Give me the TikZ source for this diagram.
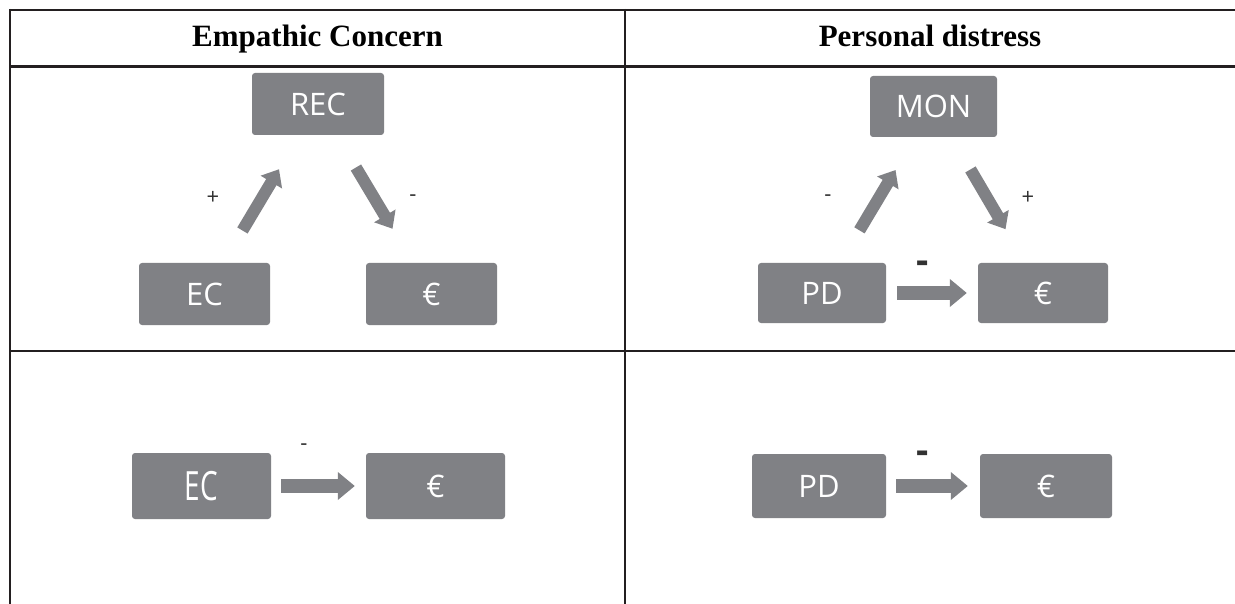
\documentclass[tikz,border=0pt]{standalone}
\usepackage{fontspec}
\setmainfont{Liberation Serif}
\newfontfamily\boxfont{Open Sans}
\usetikzlibrary{arrows.meta}
\definecolor{boxgray}{RGB}{128,129,133}
\definecolor{rulecol}{RGB}{35,31,32}
\definecolor{labcol}{RGB}{50,50,50}
\begin{document}
\begin{tikzpicture}[x=1pt,y=-1pt,
  box/.style={fill=boxgray, rounded corners=3pt, inner sep=0pt, text=white,
    font=\boxfont\fontsize{31}{31}\selectfont},
  tablerule/.style={draw=rulecol, line width=2.4pt},
  head/.style={anchor=base, font=\bfseries\fontsize{31}{31}\selectfont, text=black},
  blockarrow/.style={draw=boxgray, line width=12pt, -{Triangle[length=15pt,width=24pt]}},
  flatarrow/.style={draw=boxgray, line width=14pt, -{Triangle[length=17pt,width=27pt]}},
  lab/.style={font=\boxfont\fontsize{22}{22}\selectfont, text=labcol, inner sep=0pt},
  boldlab/.style={font=\boxfont\bfseries\fontsize{38}{38}\selectfont, text=labcol, inner sep=0pt}]
\useasboundingbox (0,0) rectangle (1235,604);
\fill[white] (0,0) rectangle (1235,604);
% table
\draw[tablerule] (10,10) -- (1235,10);
\draw[tablerule] (10,66.5) -- (1235,66.5);
\draw[tablerule] (10,351) -- (1235,351);
\draw[tablerule] (10,8.8) -- (10,604);
\draw[tablerule] (625,8.8) -- (625,604);
\node[head] (h1) at (317.5,47) {Empathic Concern};
\node[head] (h2) at (930,47) {Personal distress};
% top-left panel
\node[box, minimum width=132pt, minimum height=62pt] (rec) at (318,104) {REC};
\node[box, minimum width=131pt, minimum height=62pt] (ec1) at (204.5,294) {EC};
\node[box, minimum width=131pt, minimum height=62pt] (eu1) at (431.5,294) {€};
\draw[blockarrow, shorten <=74pt, shorten >=76pt] (ec1.center) -- (rec.center);
\draw[blockarrow, shorten <=74pt, shorten >=76pt] (rec.center) -- (eu1.center);
\node[lab] (p1) at (213,198) {+};
\node[lab] (m1) at (413,198) {-};
% top-right panel
\node[box, minimum width=127pt, minimum height=61pt] (mon) at (933.5,106.5) {MON};
\node[box, minimum width=128pt, minimum height=60pt] (pd1) at (822,293) {PD};
\node[box, minimum width=130pt, minimum height=60pt] (eu2) at (1043,293) {€};
\draw[blockarrow, shorten <=73pt, shorten >=74pt] (pd1.center) -- (mon.center);
\draw[blockarrow, shorten <=73pt, shorten >=74pt] (mon.center) -- (eu2.center);
\draw[flatarrow, shorten <=11pt, shorten >=11pt] (pd1.east) -- (eu2.west);
\node[lab] (m2) at (828,198) {-};
\node[lab] (p2) at (1028,198) {+};
\node[boldlab] (m3) at (923,267) {-};
% bottom-left panel
\node[box, minimum width=139pt, minimum height=66pt] (ec2) at (201.5,486) {\scalebox{0.9}[1.3]{EC}};
\node[box, minimum width=139pt, minimum height=66pt] (eu3) at (435.5,486) {€};
\draw[flatarrow, shorten <=10pt, shorten >=11pt] (ec2.east) -- (eu3.west);
\node[lab] (m4) at (304,447) {-};
% bottom-right panel
\node[box, minimum width=134pt, minimum height=64pt] (pd2) at (819,486) {PD};
\node[box, minimum width=132pt, minimum height=64pt] (eu4) at (1046,486) {€};
\draw[flatarrow, shorten <=10pt, shorten >=12pt] (pd2.east) -- (eu4.west);
\node[boldlab] (m5) at (923,457) {-};
\end{tikzpicture}
\end{document}
